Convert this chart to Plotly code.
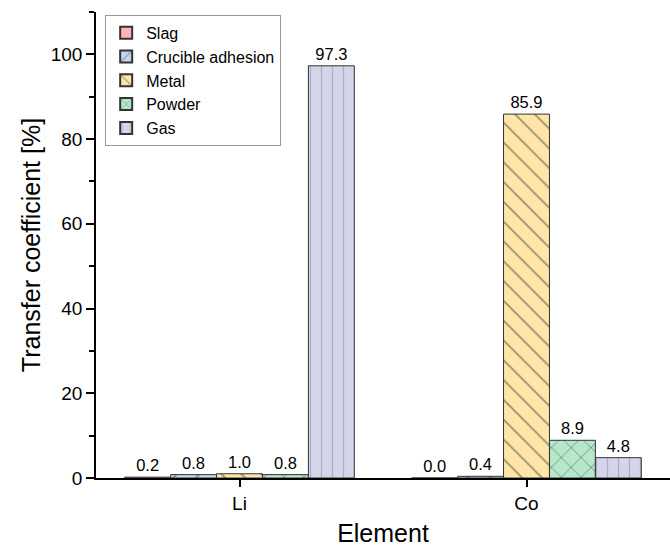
import plotly.graph_objects as go

elements = ["Li", "Co"]
series_names = ["Slag", "Crucible adhesion", "Metal", "Powder", "Gas"]
slag = [0.2, 0.0]
crucible = [0.8, 0.4]
metal = [1.0, 85.9]
powder = [0.8, 8.9]
gas = [97.3, 4.8]
values = [slag, crucible, metal, powder, gas]

colors = ["#FFB3B9", "#C3D6F0", "#FFE6A8", "#B5E8CA", "#D5D5EA"]
shapes = ["", "/", "\\", "x", "|"]
fgcolors = ["#333", "#445", "#333", "#333", "#8a8a9a"]
psizes = [8, 16, 14, 14, 11]

FONT = "Arial, Liberation Sans, sans-serif"

fig = go.Figure()
for name, vals, c, s, fg, ps in zip(series_names, values, colors, shapes, fgcolors, psizes):
    fig.add_trace(go.Bar(
        x=elements, y=vals, name=name,
        marker=dict(color=c, line=dict(color="#333333", width=1),
                    pattern=dict(shape=s, fgcolor=fg, size=ps, solidity=0.12)),
        texttemplate="%{y:.1f}", textposition="outside",
        textfont=dict(family=FONT, size=16.5, color="black"),
        cliponaxis=False,
    ))

fig.update_layout(
    width=670, height=547,
    margin=dict(l=96, r=0, t=12, b=69),
    plot_bgcolor="white", paper_bgcolor="white",
    barmode="group", bargap=0.2, bargroupgap=0,
    font=dict(family=FONT, size=16, color="black"),
    showlegend=True,
    legend=dict(x=0.016, y=0.994, xanchor="left", yanchor="top",
                bgcolor="white", bordercolor="#999999", borderwidth=1,
                font=dict(family=FONT, size=16, color="black"),
                tracegroupgap=0, itemsizing="constant"),
    xaxis=dict(range=[-0.5, 1.5], showline=True, linecolor="black", linewidth=1.5,
               ticks="outside", ticklen=7, tickcolor="black", tickwidth=1.5,
               tickfont=dict(family=FONT, size=19), automargin=False,
               title=dict(text="Element", font=dict(family=FONT, size=25), standoff=21),
               showgrid=False, zeroline=False),
    yaxis=dict(range=[0, 110], showline=True, linecolor="black", linewidth=1.5,
               ticks="outside", ticklen=8, tickcolor="black", tickwidth=1.5,
               tickvals=[0, 20, 40, 60, 80, 100],
               minor=dict(ticks="outside", ticklen=5, tickcolor="black", tickwidth=1.5,
                          tickvals=[10, 30, 50, 70, 90, 110]),
               tickfont=dict(family=FONT, size=19),
               title=dict(text="Transfer coefficient [%]", font=dict(family=FONT, size=25), standoff=3),
               showgrid=False, zeroline=False),
)

fig.write_html("out.html")
